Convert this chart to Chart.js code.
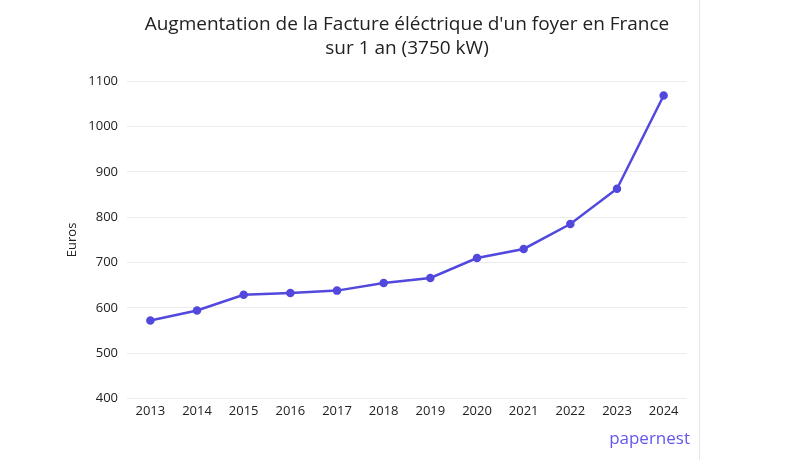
<!DOCTYPE html>
<html>
<head>
<meta charset="utf-8">
<script src="https://cdn.jsdelivr.net/npm/chart.js@4"></script>
<style>
  html, body { margin: 0; padding: 0; background: #fff; }
  #wrap { width: 800px; height: 460px; position: relative; }
</style>
</head>
<body>
<div id="wrap"><canvas id="factureChart"></canvas></div>
<script>
// données
const years = ['2013', '2014', '2015', '2016', '2017', '2018', '2019', '2020', '2021', '2022', '2023', '2024'];
const facture = [572, 594, 629, 633, 638, 655, 666, 710, 730, 785, 863, 1069];
const titleLines = ["Augmentation de la Facture éléctrique d'un foyer en France", 'sur 1 an (3750 kW)'];

const lineColor = '#5248dd';
const fontFamily = '"Open Sans", "Noto Sans", sans-serif';

// trait vertical à droite + logo texte
const decor = {
    id: 'decor',
    afterDraw(chart) {
        const ctx = chart.ctx;
        ctx.save();
        ctx.strokeStyle = '#e6e6e6';
        ctx.lineWidth = 1;
        ctx.beginPath();
        ctx.moveTo(699.5, 0);
        ctx.lineTo(699.5, chart.height);
        ctx.stroke();

        ctx.fillStyle = '#6457ec';
        ctx.font = '17px ' + fontFamily;
        ctx.textAlign = 'right';
        ctx.textBaseline = 'middle';
        ctx.fillText('papernest', 690, 439);
        ctx.restore();
    }
};

new Chart(document.getElementById('factureChart'), {
    type: 'line',
    data: {
        labels: years,
        datasets: [{
            label: 'Euros',
            data: facture,
            borderColor: lineColor,
            backgroundColor: lineColor,
            borderWidth: 2.5,
            pointRadius: 3,
            pointHoverRadius: 4,
            tension: 0
        }]
    },
    options: {
        responsive: true,
        maintainAspectRatio: false,
        animation: false,
        layout: { padding: { left: 58, right: 113, top: 8, bottom: 44 } },
        plugins: {
            legend: { display: false },
            tooltip: { enabled: false },
            title: {
                display: true,
                text: titleLines,
                fullSize: false,
                color: '#222',
                font: { family: fontFamily, size: 19, weight: 'normal', lineHeight: 1.3 },
                padding: { top: 4, bottom: 20 }
            }
        },
        scales: {
            x: {
                offset: true,
                grid: { display: false },
                border: { display: false },
                ticks: { color: '#222', font: { family: fontFamily, size: 13 }, padding: -3 }
            },
            y: {
                min: 400,
                max: 1100,
                afterFit(scale) { scale.width = 69; },
                ticks: {
                    stepSize: 100,
                    color: '#222',
                    font: { family: fontFamily, size: 13 },
                    padding: 9,
                    callback: (v) => String(v)
                },
                grid: { color: '#ececec', drawTicks: false },
                border: { display: false },
                title: {
                    display: true,
                    text: 'Euros',
                    color: '#222',
                    font: { family: fontFamily, size: 13 },
                    padding: 6
                }
            }
        }
    },
    plugins: [decor]
});
</script>
</body>
</html>
